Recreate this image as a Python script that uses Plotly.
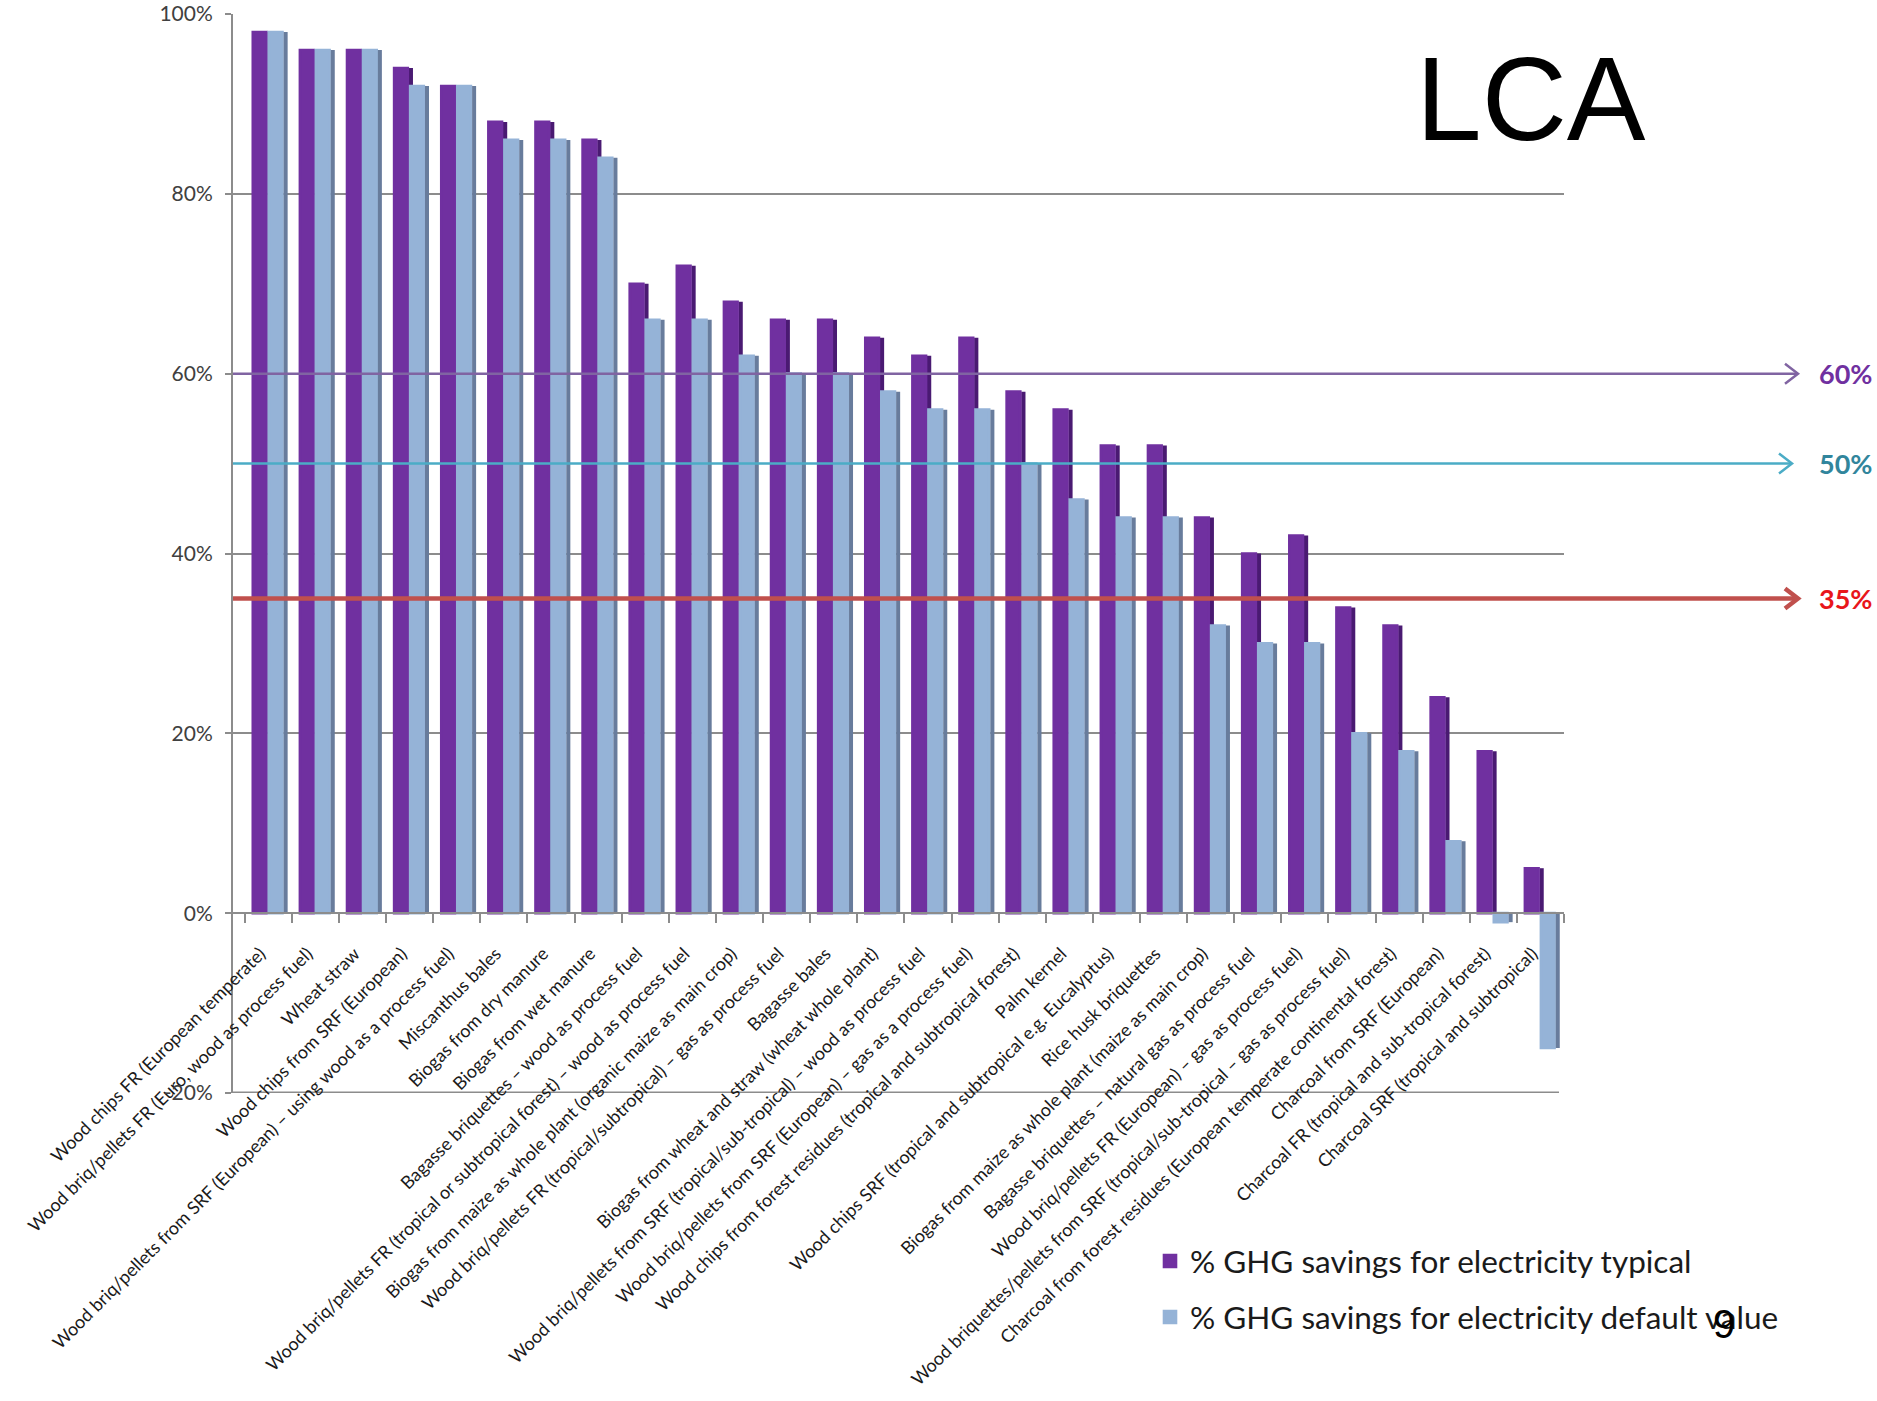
import plotly.graph_objects as go

# ---- data -------------------------------------------------------------
categories = [
    "Wood chips FR (European temperate)",
    "Wood briq/pellets FR (Euro, wood as process fuel)",
    "Wheat straw",
    "Wood chips from SRF (European)",
    "Wood briq/pellets from SRF (European) – using wood as a process fuel)",
    "Miscanthus bales",
    "Biogas from dry manure",
    "Biogas from wet manure",
    "Bagasse briquettes – wood as process fuel",
    "Wood briq/pellets FR (tropical or subtropical forest) – wood as process fuel",
    "Biogas from maize as whole plant (organic maize as main crop)",
    "Wood briq/pellets FR (tropical/subtropical) – gas as process fuel",
    "Bagasse bales",
    "Biogas from wheat and straw (wheat whole plant)",
    "Wood briq/pellets from SRF (tropical/sub-tropical) – wood as process fuel",
    "Wood briq/pellets from SRF (European) – gas as a process fuel)",
    "Wood chips from forest residues (tropical and subtropical forest)",
    "Palm kernel",
    "Wood chips SRF (tropical and subtropical e.g. Eucalyptus)",
    "Rice husk briquettes",
    "Biogas from maize as whole plant (maize as main crop)",
    "Bagasse briquettes – natural gas as process fuel",
    "Wood briq/pellets FR (European) – gas as process fuel)",
    "Wood briquettes/pellets from SRF (tropical/sub-tropical – gas as process fuel)",
    "Charcoal from forest residues (European temperate continental forest)",
    "Charcoal from SRF (European)",
    "Charcoal FR (tropical and sub-tropical forest)",
    "Charcoal SRF (tropical and subtropical)",
]
typical = [98, 96, 96, 94, 92, 88, 88, 86, 70, 72, 68, 66, 66, 64,
           62, 64, 58, 56, 52, 52, 44, 40, 42, 34, 32, 24, 18, 5]
default = [98, 96, 96, 92, 92, 86, 86, 84, 66, 66, 62, 60, 60, 58,
           56, 56, 50, 46, 44, 44, 32, 30, 30, 20, 18, 8, -1, -15]
series_names = ["% GHG savings for electricity typical",
                "% GHG savings for electricity default value"]
thresholds = [60, 50, 35]
threshold_labels = ["60%", "50%", "35%"]
y_ticks = [-20, 0, 20, 40, 60, 80, 100]

# ---- page geometry ------------------------------------------------------
W, H = 1877, 1401
ML, MR, MT, MB = 233, 313, 14, 308
PW, PH = W - ML - MR, H - MT - MB


def px_x(px):
    return (px - ML) / PW


def px_y(py):
    return (H - MB - py) / PH


PURPLE, PURPLE_SIDE = "#7030a0", "#4a1a72"
BLUE, BLUE_SIDE = "#95b3d7", "#687c9c"
GRID = "#8c8c8c"
FONT = "Lato"

fig = go.Figure()

# purple side face (only visible above the lighter bar)
fig.add_trace(go.Bar(x=categories, y=typical, offset=-0.02, width=0.09,
                     marker=dict(color=PURPLE_SIDE, line_width=0),
                     showlegend=False, hoverinfo="skip"))
# main bars; the same-colour outline also enlarges the legend swatch
fig.add_trace(go.Bar(x=categories, y=typical, name=series_names[0],
                     offset=-0.33, width=0.29,
                     marker=dict(color=PURPLE, line=dict(color=PURPLE, width=2.6)),
                     legendgroup="a"))
fig.add_trace(go.Bar(x=categories, y=default, name=series_names[1],
                     offset=0.01, width=0.29,
                     marker=dict(color=BLUE, line=dict(color=BLUE, width=2.6)),
                     legendgroup="b"))
fig.add_trace(go.Bar(x=categories, y=default, offset=0.325, width=0.085,
                     marker=dict(color=BLUE_SIDE, line_width=0),
                     showlegend=False, hoverinfo="skip"))

# threshold arrows
arrow_colors = ["#8064a2", "#4bacc6", "#c0504d"]
arrow_widths = [2.5, 2.5, 4.5]
label_colors = ["#7030a0", "#31859c", "#e8161b"]
tip_px = [1798, 1792, 1798]
shapes = []
annotations = []
for thr, lab, col, lw, lcol, tip in zip(thresholds, threshold_labels, arrow_colors,
                                        arrow_widths, label_colors, tip_px):
    shapes.append(dict(type="line", xref="paper", yref="y", x0=0, x1=px_x(tip),
                       y0=thr, y1=thr, line=dict(color=col, width=lw), layer="above"))
    shapes.append(dict(type="path", xref="paper", yref="y",
                       xsizemode="pixel", ysizemode="pixel",
                       xanchor=px_x(tip), yanchor=thr,
                       path="M -13,-10 L 0,0 L -13,10",
                       line=dict(color=col, width=lw), layer="above"))
    annotations.append(dict(xref="paper", yref="y", x=px_x(1874), y=thr,
                            xanchor="right", yanchor="middle", showarrow=False,
                            text=f"<b>{lab}</b>",
                            font=dict(family=FONT, size=27, color=lcol)))

# floor front edge
shapes.append(dict(type="line", xref="paper", yref="y", x0=0, x1=px_x(1559),
                   y0=-20, y1=-20, line=dict(color=GRID, width=3), layer="below"))

annotations.append(dict(xref="paper", yref="paper", x=px_x(1531), y=px_y(99),
                        xanchor="center", yanchor="middle", showarrow=False,
                        text="LCA",
                        font=dict(family="Liberation Sans", size=118, color="#000000")))
annotations.append(dict(xref="paper", yref="paper", x=px_x(1724), y=px_y(1324),
                        xanchor="center", yanchor="middle", showarrow=False,
                        text="9",
                        font=dict(family="Liberation Sans", size=40, color="#000000")))

fig.update_layout(
    width=W, height=H, autosize=False,
    margin=dict(l=ML, r=MR, t=MT, b=MB, pad=0, autoexpand=False),
    paper_bgcolor="white", plot_bgcolor="white",
    barmode="overlay",
    shapes=shapes, annotations=annotations,
    showlegend=True,
    legend=dict(x=px_x(1150), y=px_y(1234), xanchor="left", yanchor="top",
                font=dict(family=FONT, size=31.5, color="#1a1a1a"),
                traceorder="grouped", tracegroupgap=12, itemwidth=30,
                bgcolor="rgba(0,0,0,0)"),
    xaxis=dict(type="category", range=[-0.75, len(categories) - 0.5],
               anchor="free", position=20 / 120, automargin=False,
               showline=True, linecolor=GRID, linewidth=2,
               showgrid=False, zeroline=False,
               ticks="outside", ticklen=9, tickcolor=GRID, tickwidth=2,
               tickson="boundaries",
               tickangle=-45, ticklabelstandoff=22, ticklabelshift=-8,
               tickfont=dict(family=FONT, size=18, color="#1a1a1a")),
    yaxis=dict(range=[-20, 100], tickvals=y_ticks, automargin=False,
               ticktext=[f"{v}%" for v in y_ticks],
               showgrid=True, gridcolor=GRID, gridwidth=2,
               zeroline=False, showline=True, linecolor=GRID, linewidth=2,
               ticks="outside", ticklen=6, tickcolor=GRID, tickwidth=2,
               ticklabelstandoff=8,
               tickfont=dict(family=FONT, size=21, color="#404040")),
)

fig.write_html("out.html", config={"displayModeBar": False},
               post_script="document.body.style.margin='0';")
